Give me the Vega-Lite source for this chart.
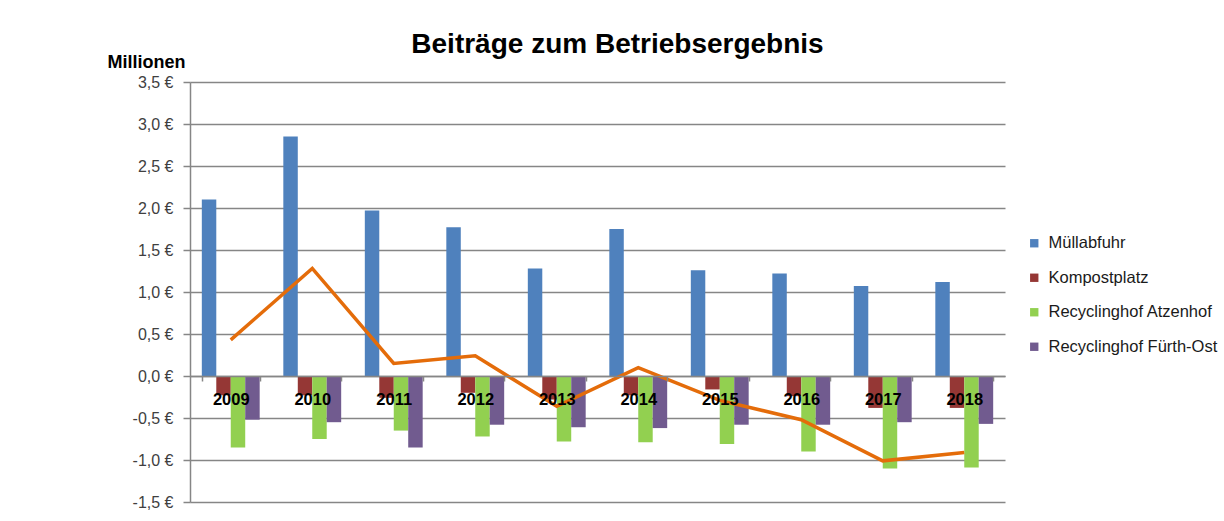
{
  "$schema": "https://vega.github.io/schema/vega-lite/v6.json",
  "autosize": "none",
  "width": 815,
  "height": 420,
  "padding": {"left": 190, "top": 82, "right": 219, "bottom": 19},
  "background": "white",
  "config": {"font": "Liberation Sans", "view": {"stroke": null}},
  "title": {
    "text": "Beiträge zum Betriebsergebnis",
    "fontSize": 28,
    "fontWeight": "bold",
    "color": "#000000",
    "anchor": "middle",
    "frame": "group",
    "dx": 20,
    "dy": 55,
    "baseline": "alphabetic",
    "offset": 27
  },
  "datasets": {
    "bars": [
      {"year": "2009", "series": "Müllabfuhr", "value": 2.10},
      {"year": "2009", "series": "Kompostplatz", "value": -0.23},
      {"year": "2009", "series": "Recyclinghof Atzenhof", "value": -0.85},
      {"year": "2009", "series": "Recyclinghof Fürth-Ost", "value": -0.52},
      {"year": "2010", "series": "Müllabfuhr", "value": 2.85},
      {"year": "2010", "series": "Kompostplatz", "value": -0.23},
      {"year": "2010", "series": "Recyclinghof Atzenhof", "value": -0.75},
      {"year": "2010", "series": "Recyclinghof Fürth-Ost", "value": -0.55},
      {"year": "2011", "series": "Müllabfuhr", "value": 1.97},
      {"year": "2011", "series": "Kompostplatz", "value": -0.26},
      {"year": "2011", "series": "Recyclinghof Atzenhof", "value": -0.65},
      {"year": "2011", "series": "Recyclinghof Fürth-Ost", "value": -0.85},
      {"year": "2012", "series": "Müllabfuhr", "value": 1.77},
      {"year": "2012", "series": "Kompostplatz", "value": -0.20},
      {"year": "2012", "series": "Recyclinghof Atzenhof", "value": -0.72},
      {"year": "2012", "series": "Recyclinghof Fürth-Ost", "value": -0.58},
      {"year": "2013", "series": "Müllabfuhr", "value": 1.28},
      {"year": "2013", "series": "Kompostplatz", "value": -0.28},
      {"year": "2013", "series": "Recyclinghof Atzenhof", "value": -0.78},
      {"year": "2013", "series": "Recyclinghof Fürth-Ost", "value": -0.61},
      {"year": "2014", "series": "Müllabfuhr", "value": 1.75},
      {"year": "2014", "series": "Kompostplatz", "value": -0.23},
      {"year": "2014", "series": "Recyclinghof Atzenhof", "value": -0.79},
      {"year": "2014", "series": "Recyclinghof Fürth-Ost", "value": -0.62},
      {"year": "2015", "series": "Müllabfuhr", "value": 1.26},
      {"year": "2015", "series": "Kompostplatz", "value": -0.16},
      {"year": "2015", "series": "Recyclinghof Atzenhof", "value": -0.81},
      {"year": "2015", "series": "Recyclinghof Fürth-Ost", "value": -0.58},
      {"year": "2016", "series": "Müllabfuhr", "value": 1.22},
      {"year": "2016", "series": "Kompostplatz", "value": -0.24},
      {"year": "2016", "series": "Recyclinghof Atzenhof", "value": -0.90},
      {"year": "2016", "series": "Recyclinghof Fürth-Ost", "value": -0.58},
      {"year": "2017", "series": "Müllabfuhr", "value": 1.07},
      {"year": "2017", "series": "Kompostplatz", "value": -0.38},
      {"year": "2017", "series": "Recyclinghof Atzenhof", "value": -1.10},
      {"year": "2017", "series": "Recyclinghof Fürth-Ost", "value": -0.55},
      {"year": "2018", "series": "Müllabfuhr", "value": 1.12},
      {"year": "2018", "series": "Kompostplatz", "value": -0.38},
      {"year": "2018", "series": "Recyclinghof Atzenhof", "value": -1.09},
      {"year": "2018", "series": "Recyclinghof Fürth-Ost", "value": -0.57}
    ],
    "total": [
      {"year": "2009", "total": 0.43},
      {"year": "2010", "total": 1.28},
      {"year": "2011", "total": 0.15},
      {"year": "2012", "total": 0.24},
      {"year": "2013", "total": -0.36},
      {"year": "2014", "total": 0.10},
      {"year": "2015", "total": -0.29},
      {"year": "2016", "total": -0.52},
      {"year": "2017", "total": -1.01},
      {"year": "2018", "total": -0.91}
    ]
  },
  "layer": [
    {
      "data": {"name": "bars"},
      "mark": {"type": "bar"},
      "encoding": {
        "x": {
          "field": "year", "type": "nominal",
          "scale": {"paddingInner": 0.29, "paddingOuter": 0.145},
          "axis": {
            "title": null, "orient": "bottom", "offset": -126, "zindex": 1,
            "labelAngle": 0, "labelFontSize": 16.5, "labelFontWeight": "bold", "labelColor": "#000000",
            "labelPadding": 10, "labelBaseline": "top",
            "domainColor": "#868686", "domainWidth": 1.5,
            "tickColor": "#868686", "tickSize": 5, "tickWidth": 1.5, "tickBand": "extent",
            "grid": false
          }
        },
        "xOffset": {
          "field": "series", "type": "nominal",
          "scale": {"domain": ["Müllabfuhr", "Kompostplatz", "Recyclinghof Atzenhof", "Recyclinghof Fürth-Ost"], "paddingInner": 0, "paddingOuter": 0}
        },
        "y": {
          "field": "value", "type": "quantitative",
          "scale": {"domain": [-1.5, 3.5], "nice": false, "zero": false},
          "axis": {
            "title": "Millionen", "titleAngle": 0, "titleX": -44, "titleY": -15,
            "titleAlign": "center", "titleBaseline": "alphabetic",
            "titleFontSize": 18, "titleFontWeight": "bold", "titleColor": "#000000",
            "values": [-1.5, -1, -0.5, 0, 0.5, 1, 1.5, 2, 2.5, 3, 3.5],
            "labelExpr": "replace(replace(format(datum.value, '.1f'), '.', ','), '\u2212', '-') + ' €'",
            "labelFontSize": 16, "labelColor": "#404040", "labelPadding": 10,
            "domainColor": "#868686", "domainWidth": 1.5,
            "tickColor": "#868686", "tickSize": 7, "tickWidth": 1.5,
            "grid": true, "gridColor": "#868686", "gridWidth": 1.3, "zindex": 0
          }
        },
        "color": {
          "field": "series", "type": "nominal",
          "scale": {
            "domain": ["Müllabfuhr", "Kompostplatz", "Recyclinghof Atzenhof", "Recyclinghof Fürth-Ost"],
            "range": ["#4F81BD", "#953735", "#92D050", "#715B8F"]
          },
          "legend": {
            "title": null, "orient": "none", "legendX": 836, "legendY": 153,
            "symbolType": "square", "symbolSize": 70, "symbolStrokeWidth": 0,
            "labelFontSize": 16.5, "labelColor": "#1a1a1a", "labelOffset": 6, "labelLimit": 300,
            "rowPadding": 17.5
          }
        }
      }
    },
    {
      "data": {"name": "total"},
      "mark": {"type": "line", "color": "#E46C0A", "strokeWidth": 3.5},
      "encoding": {
        "x": {"field": "year", "type": "nominal"},
        "y": {"field": "total", "type": "quantitative"}
      }
    }
  ]
}
